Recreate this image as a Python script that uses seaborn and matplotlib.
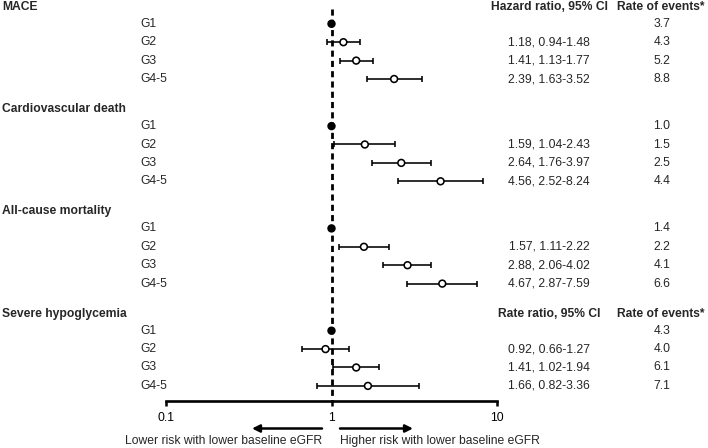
import matplotlib
matplotlib.use("Agg")
import matplotlib.pyplot as plt
import seaborn as sns
import pandas as pd

# ---------------- data ----------------
outcomes = ["MACE", "Cardiovascular death", "All-cause mortality", "Severe hypoglycemia"]
stages = ["G1", "G2", "G3", "G4-5"]
ratio_headers = ["Hazard ratio, 95% CI", "", "", "Rate ratio, 95% CI"]
rate_headers = ["Rate of events*", "", "", "Rate of events*"]

ratio = [[1.00, 1.18, 1.41, 2.39],
         [1.00, 1.59, 2.64, 4.56],
         [1.00, 1.57, 2.88, 4.67],
         [1.00, 0.92, 1.41, 1.66]]
ci_low = [[None, 0.94, 1.13, 1.63],
          [None, 1.04, 1.76, 2.52],
          [None, 1.11, 2.06, 2.87],
          [None, 0.66, 1.02, 0.82]]
ci_high = [[None, 1.48, 1.77, 3.52],
           [None, 2.43, 3.97, 8.24],
           [None, 2.22, 4.02, 7.59],
           [None, 1.27, 1.94, 3.36]]
rates = [[3.7, 4.3, 5.2, 8.8],
         [1.0, 1.5, 2.5, 4.4],
         [1.4, 2.2, 4.1, 6.6],
         [4.3, 4.0, 6.1, 7.1]]
x_ticks = [0.1, 1, 10]
x_ticklabels = ["0.1", "1", "10"]
left_arrow_label = "Lower risk with lower baseline eGFR"
right_arrow_label = "Higher risk with lower baseline eGFR"

# ---------------- layout (pixel units) ----------------
W, H = 708, 448
FIRST_ROW = 23.8
GROUP_STRIDE = 102.3
ROW_STEP = 18.4
HEADER_OFFSET = 17.0
AXIS_Y = 401.5

rows = []
for g, name in enumerate(outcomes):
    for i, st in enumerate(stages):
        rows.append(dict(outcome=name, stage=st, ratio=ratio[g][i],
                         lo=ci_low[g][i], hi=ci_high[g][i], rate=rates[g][i],
                         ref=(i == 0),
                         y=FIRST_ROW + g * GROUP_STRIDE + i * ROW_STEP))
df = pd.DataFrame(rows)

sns.set_style("white")
plt.rcParams["font.family"] = ["Liberation Sans", "DejaVu Sans"]
FS = 8.7

fig = plt.figure(figsize=(W / 100, H / 100), dpi=100)

# overlay axes for text in pixel coordinates
tx = fig.add_axes([0, 0, 1, 1])
tx.set_xlim(0, W)
tx.set_ylim(H, 0)
tx.axis("off")

# main forest axes
x0, x1 = 166, 497
ax = fig.add_axes([x0 / W, 0, (x1 - x0) / W, 1])
ax.patch.set_alpha(0)
ax.set_xscale("log")
ax.set_xlim(0.1, 10)
ax.set_ylim(H, 0)

# reference dashed line
ax.vlines(1, 9, AXIS_Y, colors="black", linewidth=2.0,
          linestyles=[(0, (2.2, 1.5))], zorder=1)

# error bars
nr = df[~df.ref]
ax.errorbar(nr["ratio"], nr["y"],
            xerr=[nr["ratio"] - nr["lo"], nr["hi"] - nr["ratio"]],
            fmt="none", ecolor="black", elinewidth=1.15, capsize=2.4,
            capthick=1.15, zorder=2)

sns.scatterplot(data=df, x="ratio", y="y", hue="ref",
                palette={True: "black", False: "white"},
                edgecolor="black", linewidth=1.15, s=24, legend=False,
                ax=ax, zorder=3)

# axis styling
for s in ["left", "right", "top"]:
    ax.spines[s].set_visible(False)
ax.spines["bottom"].set_position(("data", AXIS_Y))
ax.spines["bottom"].set_linewidth(1.9)
ax.spines["bottom"].set_color("black")
ax.set_xticks(x_ticks)
ax.set_xticklabels(x_ticklabels, fontsize=FS)
ax.minorticks_off()
ax.tick_params(axis="x", direction="out", length=3.5, width=1.8, pad=4,
               colors="black", bottom=True)
ax.set_yticks([])
ax.set_xlabel("")
ax.set_ylabel("")

# texts
for g, name in enumerate(outcomes):
    hy = FIRST_ROW + g * GROUP_STRIDE - HEADER_OFFSET
    tx.text(2, hy, name, fontsize=FS, fontweight="bold", ha="left", va="center")
    if ratio_headers[g]:
        tx.text(549, hy, ratio_headers[g], fontsize=FS, fontweight="bold",
                ha="center", va="center")
    if rate_headers[g]:
        tx.text(661, hy, rate_headers[g], fontsize=FS, fontweight="bold",
                ha="center", va="center")

for _, r in df.iterrows():
    tx.text(140, r["y"], r["stage"], fontsize=FS, ha="left", va="center")
    if not r["ref"]:
        tx.text(549, r["y"], f"{r['ratio']:.2f}, {r['lo']:.2f}-{r['hi']:.2f}",
                fontsize=FS, ha="center", va="center")
    tx.text(662, r["y"], f"{r['rate']:.1f}", fontsize=FS, ha="center", va="center")

# arrows
tx.annotate("", xy=(252, 428.5), xytext=(322, 428.5),
            arrowprops=dict(arrowstyle="-|>", color="black", lw=1.8,
                            mutation_scale=11, shrinkA=0, shrinkB=0))
tx.annotate("", xy=(413, 428.5), xytext=(340, 428.5),
            arrowprops=dict(arrowstyle="-|>", color="black", lw=1.8,
                            mutation_scale=11, shrinkA=0, shrinkB=0))
tx.text(322, 441, left_arrow_label, fontsize=FS, ha="right", va="center")
tx.text(340, 441, right_arrow_label, fontsize=FS, ha="left", va="center")

fig.savefig("out.png", dpi=100)
